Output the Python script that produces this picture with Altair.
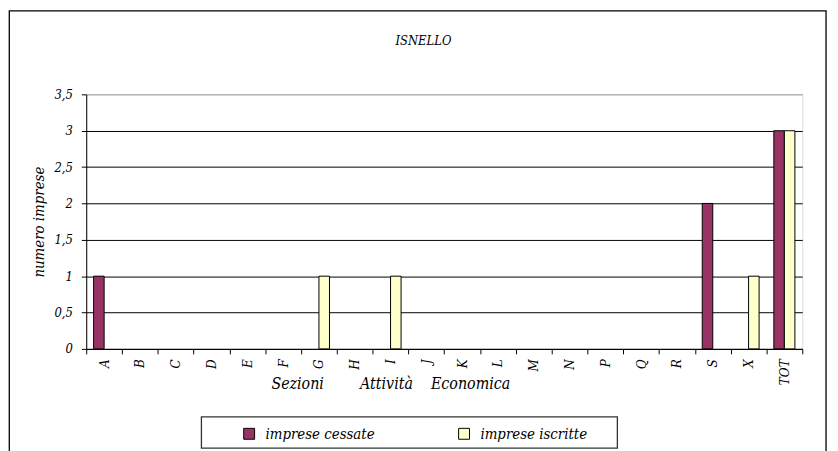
import altair as alt
import pandas as pd

categories = ["A", "B", "C", "D", "E", "F", "G", "H", "I", "J",
              "K", "L", "M", "N", "P", "Q", "R", "S", "X", "TOT"]
cessate = [1, 0, 0, 0, 0, 0, 0, 0, 0, 0, 0, 0, 0, 0, 0, 0, 0, 2, 0, 3]
iscritte = [0, 0, 0, 0, 0, 0, 1, 0, 1, 0, 0, 0, 0, 0, 0, 0, 0, 0, 1, 3]
series = ["imprese cessate", "imprese iscritte"]
colors = ["#993366", "#FFFFCC"]
y_ticks = [0, 0.5, 1, 1.5, 2, 2.5, 3, 3.5]

rows = []
for c, a, b in zip(categories, cessate, iscritte):
    rows.append({"sezione": c, "serie": series[0], "valore": a})
    rows.append({"sezione": c, "serie": series[1], "valore": b})
df = pd.DataFrame(rows)

FONT = "DejaVu Serif Condensed, DejaVu Serif"
W, H = 723, 257
NB = "\u00a0"
x_title = "Sezioni" + NB * 8 + "Attività" + NB * 4 + "Economica"

bars = alt.Chart(df).transform_filter("datum.valore > 0").mark_bar(
    stroke="black", strokeWidth=1
).encode(
    x=alt.X(
        "sezione:N",
        sort=categories,
        scale=alt.Scale(domain=categories, paddingInner=0, paddingOuter=0),
        axis=alt.Axis(
            title=x_title,
            titleFont=FONT, titleFontStyle="italic", titleFontWeight="normal",
            titleFontSize=16, titleColor="black",
            titleX=307, titleY=40, titleBaseline="alphabetic", titleAlign="center",
            labelAngle=270, labelFont=FONT, labelFontStyle="italic",
            labelFontSize=13.5, labelColor="black", labelPadding=5,
            tickBand="extent", tickSize=5, tickColor="black",
            domainColor="black", grid=False,
        ),
    ),
    xOffset=alt.XOffset(
        "serie:N",
        scale=alt.Scale(domain=series, paddingInner=0, paddingOuter=0.7),
    ),
    y=alt.Y(
        "valore:Q",
        scale=alt.Scale(domain=[0, 3.5], nice=False),
        axis=alt.Axis(
            title="numero imprese",
            titleFont=FONT, titleFontStyle="italic", titleFontWeight="normal",
            titleFontSize=15, titleColor="black",
            titleX=-48, titleBaseline="middle",
            values=y_ticks,
            labelExpr="replace(format(datum.value, '~g'), '.', ',')",
            labelFont=FONT, labelFontStyle="italic", labelFontSize=13,
            labelColor="black", labelPadding=9,
            tickSize=5, tickColor="black", domainColor="black",
            grid=True,
            gridColor=alt.condition("datum.value == 3.5", alt.value("#999999"), alt.value("black")),
            gridOpacity=1, gridWidth=1,
        ),
    ),
    color=alt.Color(
        "serie:N",
        scale=alt.Scale(domain=series, range=colors),
        legend=alt.Legend(
            title=None, orient="none", legendX=157, legendY=335,
            direction="horizontal", columns=2, columnPadding=82,
            symbolType="square", symbolSize=121, symbolStrokeColor="black",
            symbolStrokeWidth=1, labelOffset=9, padding=0,
            labelFont=FONT, labelFontStyle="italic", labelFontSize=15,
            labelColor="black", labelLimit=300,
        ),
    ),
)

one = pd.DataFrame({"k": [0]})
frame = alt.Chart(one).mark_rect(fill=None, stroke="black", strokeWidth=1.3).encode(
    x=alt.value(-77.7), x2=alt.value(747), y=alt.value(-84.4), y2=alt.value(400)
)
legend_box = alt.Chart(one).mark_rect(fill=None, stroke="#333333", strokeWidth=1.3).encode(
    x=alt.value(116.3), x2=alt.value(536.3), y=alt.value(325.6), y2=alt.value(357.3)
)

chart = alt.layer(frame, bars, legend_box).properties(
    width=W, height=H,
    title=alt.TitleParams(
        "ISNELLO", font=FONT, fontStyle="italic", fontWeight="normal",
        fontSize=13, color="black", anchor="middle", dx=-21, offset=0, dy=38,
    ),
    autosize=alt.AutoSizeParams(type="none"),
    padding={"left": 79, "top": 85, "right": 28, "bottom": 110},
).configure_view(stroke="#999999", strokeWidth=1).configure(background="white")

chart.save("out.html", embed_options={"renderer": "svg", "actions": False})
